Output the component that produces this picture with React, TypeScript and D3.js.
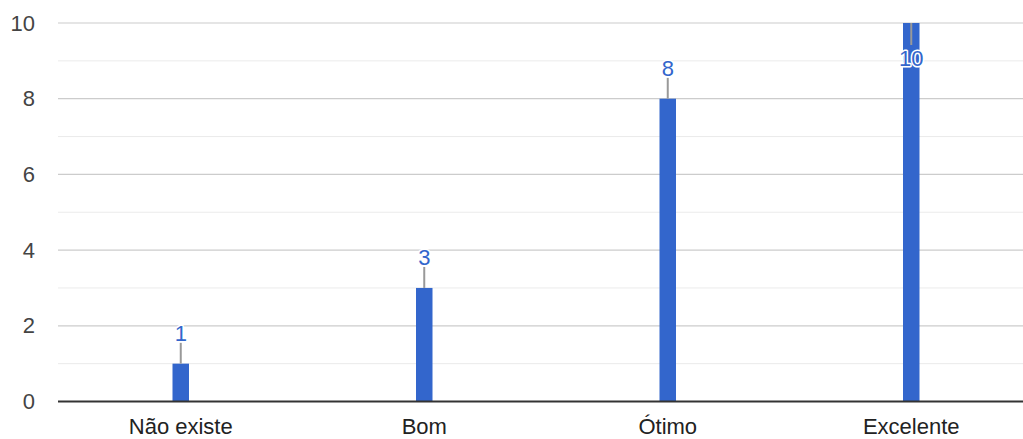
import React from "react";
import * as d3 from "d3";

const categories = ["Não existe", "Bom", "Ótimo", "Excelente"];
const values = [1, 3, 8, 10];
const majorTicks = [0, 2, 4, 6, 8, 10];
const minorTicks = [1, 3, 5, 7, 9];

const W = 1023;
const H = 439;
const left = 58;
const top = 23;
const bottom = 401.5;
const FONT = "Arial, 'Liberation Sans', sans-serif";
const BLUE = "#3366cc";

export default function App() {
  const x = d3.scaleBand<string>().domain(categories).range([59, 1033]).paddingInner(0).paddingOuter(0);
  const y = d3.scaleLinear().domain([0, 10]).range([bottom, top]);
  const barW = 16.5;
  const yMax = d3.max(values) as number;

  return (
    <svg width={W} height={H} style={{ position: "absolute", left: 0, top: 0, background: "#fff" }}>
      {minorTicks.map((t) => (
        <line key={"m" + t} x1={left} x2={W} y1={y(t)} y2={y(t)} stroke="#ebebeb" strokeWidth={1} />
      ))}
      {majorTicks.filter((t) => t !== 0).map((t) => (
        <line key={"g" + t} x1={left} x2={W} y1={y(t)} y2={y(t)} stroke="#cccccc" strokeWidth={1.2} />
      ))}
      {majorTicks.map((t) => (
        <text key={"t" + t} x={35} y={y(t)} textAnchor="end" dominantBaseline="central" fontFamily={FONT} fontSize={22} fill="#444">
          {t}
        </text>
      ))}
      {categories.map((c, i) => {
        const cx = (x(c) as number) + x.bandwidth() / 2;
        const v = values[i];
        const yt = y(v);
        const inside = v === yMax;
        const lineY1 = inside ? yt : yt - 21;
        const lineY2 = inside ? yt + 22 : yt;
        const labelY = inside ? yt + 43 : yt - 23;
        return (
          <g key={c}>
            <rect x={cx - barW / 2} y={yt} width={barW} height={bottom - yt} fill={BLUE} />
            <line x1={cx} x2={cx} y1={lineY1} y2={lineY2} stroke="#999" strokeWidth={2} />
            <text
              x={cx}
              y={labelY}
              textAnchor="middle"
              fontFamily={FONT}
              fontSize={22}
              fill={BLUE}
              stroke="#fff"
              strokeWidth={3}
              paintOrder="stroke"
              strokeLinejoin="round"
            >
              {v}
            </text>
            <text x={cx} y={434} textAnchor="middle" fontFamily={FONT} fontSize={22} fill="#222">
              {c}
            </text>
          </g>
        );
      })}
      <line x1={left} x2={W} y1={bottom} y2={bottom} stroke="#333" strokeWidth={2} />
    </svg>
  );
}
